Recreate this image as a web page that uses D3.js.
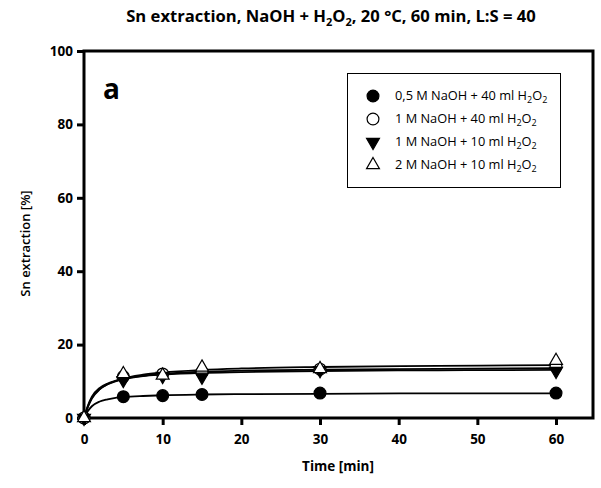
<!DOCTYPE html>
<html lang="en">
<head>
    <meta charset="UTF-8">
    <title>Sn extraction</title>
    <style>
        body { margin: 0; background: #fff; }
        text { font-family: 'Open Sans', sans-serif; fill: #000; }
        .tick text { font-size: 13.5px; font-weight: bold; }
        .tick line, .domain { stroke: #000; }
    </style>
</head>
<body>
    <svg width="601" height="488"></svg>

    <script src="https://d3js.org/d3.v7.min.js"></script>
    <script>

        // Measured time points [min]
        const times = [0, 5, 10, 15, 30, 60];

        // Sn extraction [%] for each leaching solution
        const naoh05_40 = [0, 5.8, 6.1, 6.4, 6.8, 6.8];
        const naoh1_40 = [0, 11.3, 12.0, 12.5, 13.3, 14.0];
        const naoh1_10 = [0, 10.3, 11.4, 11.2, 13.0, 12.8];
        const naoh2_10 = [0, 12.0, 11.6, 13.8, 13.4, 15.6];

        // Fitted curves
        const fitTimes = [0, 0.5, 1, 2, 3, 4, 5, 7.5, 10, 15, 20, 30, 45, 60];
        const fit05_40 = [0, 1.9, 3.2, 4.5, 5.1, 5.5, 5.7, 6.0, 6.2, 6.4, 6.5, 6.6, 6.7, 6.7];
        const fit1_40 = [0, 3.2, 5.5, 7.9, 9.2, 10.0, 10.6, 11.5, 12.0, 12.6, 12.9, 13.2, 13.4, 13.6];
        const fit1_10 = [0, 3.4, 5.8, 8.2, 9.4, 10.1, 10.6, 11.4, 11.8, 12.3, 12.5, 12.8, 13.0, 13.1];
        const fit2_10 = [0, 3.0, 5.3, 7.8, 9.2, 10.1, 10.8, 11.8, 12.4, 13.1, 13.5, 13.9, 14.2, 14.4];

        const xTicks = [0, 10, 20, 30, 40, 50, 60];
        const yTicks = [0, 20, 40, 60, 80, 100];

        const series = [
            { label: '0,5 M NaOH + 40 ml H', values: naoh05_40, fit: fit05_40, symbol: d3.symbolCircle, filled: true, rot: 0 },
            { label: '1 M NaOH + 40 ml H', values: naoh1_40, fit: fit1_40, symbol: d3.symbolCircle, filled: false, rot: 0 },
            { label: '1 M NaOH + 10 ml H', values: naoh1_10, fit: fit1_10, symbol: d3.symbolTriangle, filled: true, rot: 180 },
            { label: '2 M NaOH + 10 ml H', values: naoh2_10, fit: fit2_10, symbol: d3.symbolTriangle, filled: false, rot: 0 }
        ];

        const svg = d3.select('svg');

        const plot = { left: 84, right: 593, top: 51, bottom: 418 };

        const x = d3.scaleLinear().domain([0, 64.7]).range([plot.left, plot.right]);
        const y = d3.scaleLinear().domain([0, 100]).range([plot.bottom, plot.top]);

        // Title
        const title = svg.append('text')
            .attr('x', 331)
            .attr('y', 22)
            .attr('text-anchor', 'middle')
            .style('font-size', '16.6px')
            .style('font-weight', 'bold');
        title.append('tspan').text('Sn extraction, NaOH + H');
        title.append('tspan').attr('dy', 4).style('font-size', '11px').text('2');
        title.append('tspan').attr('dy', -4).text('O');
        title.append('tspan').attr('dy', 4).style('font-size', '11px').text('2');
        title.append('tspan').attr('dy', -4).text(', 20 °C, 60 min, L:S = 40');

        // Axes
        svg.append('g')
            .attr('transform', 'translate(0,' + plot.bottom + ')')
            .call(d3.axisBottom(x).tickValues(xTicks).tickSize(7).tickPadding(9))
            .call(function (g) {
                g.select('.domain').remove();
                g.selectAll('.tick line').attr('stroke-width', 3);
            });

        svg.append('g')
            .attr('transform', 'translate(' + plot.left + ',0)')
            .call(d3.axisLeft(y).tickValues(yTicks).tickSize(7).tickPadding(4))
            .call(function (g) {
                g.select('.domain').remove();
                g.selectAll('.tick line').attr('stroke-width', 3);
            });

        // Frame
        svg.append('rect')
            .attr('x', plot.left)
            .attr('y', plot.top)
            .attr('width', plot.right - plot.left)
            .attr('height', plot.bottom - plot.top)
            .attr('fill', 'none')
            .attr('stroke', '#000')
            .attr('stroke-width', 3);

        // Axis labels
        svg.append('text')
            .attr('x', 338)
            .attr('y', 471)
            .attr('text-anchor', 'middle')
            .style('font-size', '13.5px')
            .style('font-weight', 'bold')
            .text('Time [min]');

        svg.append('text')
            .attr('transform', 'translate(30,' + ((plot.top + plot.bottom) / 2 + 9) + ') rotate(-90)')
            .attr('text-anchor', 'middle')
            .style('font-size', '13px')
            .style('font-weight', '600')
            .text('Sn extraction [%]');

        svg.append('text')
            .attr('x', 103)
            .attr('y', 99)
            .style('font-size', '28px')
            .style('font-weight', 'bold')
            .text('a');

        // Fitted curves
        const line = d3.line()
            .x(function (d, i) { return x(fitTimes[i]); })
            .y(function (d) { return y(d); })
            .curve(d3.curveMonotoneX);

        svg.selectAll('.fit')
            .data(series)
            .enter()
            .append('path')
            .attr('class', 'fit')
            .attr('d', function (d) { return line(d.fit); })
            .attr('fill', 'none')
            .attr('stroke', '#000')
            .attr('stroke-width', 1.8);

        // Markers
        const symbolSize = function (s) {
            return s.symbol === d3.symbolCircle ? 110 : 72;
        };

        series.forEach(function (s) {
            svg.append('g')
                .selectAll('path')
                .data(s.values)
                .enter()
                .append('path')
                .attr('d', d3.symbol().type(s.symbol).size(symbolSize(s)))
                .attr('transform', function (d, i) {
                    return 'translate(' + x(times[i]) + ',' + y(d) + ') rotate(' + s.rot + ')';
                })
                .attr('fill', s.filled ? '#000' : '#fff')
                .attr('stroke', '#000')
                .attr('stroke-width', 1.2);
        });

        // Legend
        const legend = svg.append('g');

        legend.append('rect')
            .attr('x', 347.5)
            .attr('y', 73.5)
            .attr('width', 213)
            .attr('height', 114)
            .attr('fill', '#fff')
            .attr('stroke', '#000')
            .attr('stroke-width', 1);

        series.forEach(function (s, i) {
            const ry = 96 + i * 23;

            legend.append('path')
                .attr('d', d3.symbol().type(s.symbol).size(symbolSize(s)))
                .attr('transform', 'translate(373,' + ry + ') rotate(' + s.rot + ')')
                .attr('fill', s.filled ? '#000' : '#fff')
                .attr('stroke', '#000')
                .attr('stroke-width', 1.2);

            const t = legend.append('text')
                .attr('x', 395)
                .attr('y', ry + 4)
                .style('font-size', '12.8px');
            t.append('tspan').text(s.label);
            t.append('tspan').attr('dy', 3).style('font-size', '9px').text('2');
            t.append('tspan').attr('dy', -3).text('O');
            t.append('tspan').attr('dy', 3).style('font-size', '9px').text('2');
        });

    </script>
</body>
</html>
